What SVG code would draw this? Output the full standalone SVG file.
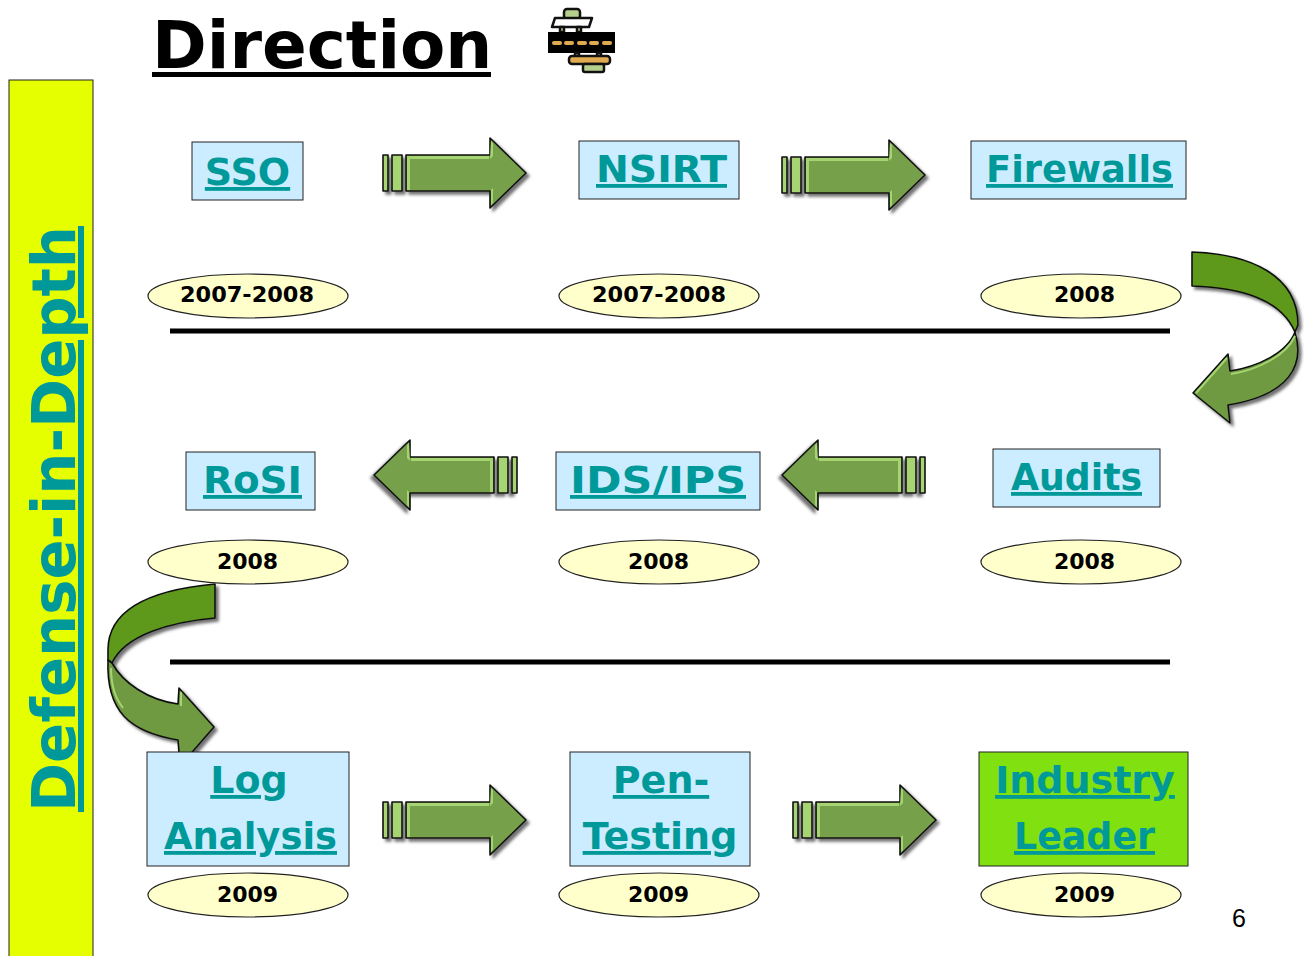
<svg xmlns="http://www.w3.org/2000/svg" width="1304" height="956" viewBox="0 0 1304 956">
<style>
.box{stroke:#222;stroke-width:1}
.blue{fill:#ccecff}
.lbl{font:bold 38px "DejaVu Sans",Verdana,sans-serif;fill:#009999;text-decoration:underline;text-anchor:middle}
.yr{font:bold 22px "DejaVu Sans",Verdana,sans-serif;fill:#000;text-anchor:middle}
.el{fill:#ffffcc;stroke:#222;stroke-width:1.2}
.rule{stroke:#000;stroke-width:5}
.ar{stroke:#111;stroke-width:1.6;stroke-linejoin:round}
.ic{stroke:#111;stroke-width:2.5;stroke-linejoin:round}
.hl{fill:none;stroke:#a6d472;stroke-width:2}
</style>
<defs>
<filter id="sh" x="-15%" y="-15%" width="135%" height="135%"><feDropShadow dx="3" dy="3" stdDeviation="1.5" flood-color="#444" flood-opacity=".75"/></filter>
<g id="arrow" filter="url(#sh)">
<rect class="ar" x="0" y="17" width="5" height="36" fill="#a6d472"/>
<rect class="ar" x="9" y="17" width="10" height="36" fill="#a6d472"/>
<path class="ar" fill="#76a04a" d="M23,17H107V0L143,35L107,70V53H23Z"/>
<path fill="#a6d472" d="M24,18H106V21H27V52H24ZM108,3L110,5V18L107,21ZM108,67V52L110,50V65Z"/>
</g>
</defs>
<g id="sidebar"><rect x="9" y="80" width="84" height="880" fill="#e6ff00" stroke="#222" stroke-width="1"/>
<text transform="translate(75,812) rotate(-90)" font-family="DejaVu Sans,Verdana,sans-serif" font-weight="bold" font-size="60" fill="#009999" text-decoration="underline" textLength="586" lengthAdjust="spacingAndGlyphs">Defense-in-Depth</text></g>
<g id="title"><text x="152" y="68" font-family="DejaVu Sans,Verdana,sans-serif" font-weight="bold" font-size="66" fill="#000">Direction</text>
<rect x="152" y="72" width="339" height="5" fill="#000"/></g>
<g id="icon">
<rect class="ic" x="564" y="9" width="16" height="10" rx="3" fill="#b5d08c"/>
<path class="ic" d="M555,18H592L589,27H552Z" fill="#fff"/>
<rect class="ic" x="560" y="27" width="4" height="5" fill="#b5d08c"/>
<rect class="ic" x="577" y="27" width="4" height="5" fill="#b5d08c"/>
<rect x="548" y="32" width="67" height="21" fill="#000"/>
<g fill="#e0aa50"><rect x="552" y="41" width="10" height="4" rx="2"/><rect x="564" y="41" width="10" height="4" rx="2"/><rect x="577" y="41" width="10" height="4" rx="2"/><rect x="589" y="41" width="10" height="4" rx="2"/><rect x="602" y="41" width="10" height="4" rx="2"/></g>
<rect class="ic" x="575" y="53" width="4" height="4" fill="#b5d08c"/>
<rect class="ic" x="597" y="53" width="4" height="4" fill="#b5d08c"/>
<rect class="ic" x="569" y="56" width="41" height="8" rx="3" fill="#e0aa50"/>
<rect class="ic" x="583" y="64" width="21" height="8" rx="2" fill="#b5d08c"/>
</g>
<g id="connectors">
<use href="#arrow" x="383" y="138"/>
<use href="#arrow" x="782" y="140"/>
<use href="#arrow" transform="translate(517,440) scale(-1,1)"/>
<use href="#arrow" transform="translate(925,440) scale(-1,1)"/>
<use href="#arrow" x="383" y="785"/>
<use href="#arrow" x="793" y="785"/>
<g id="curve-right" filter="url(#sh)">
<path class="ar" fill="#5f991c" d="M1192,252C1250,254 1298,275 1298,325L1295,332C1280,298 1240,288 1192,286Z"/>
<path class="ar" fill="#6f9a42" d="M1295,332C1305,365 1290,395 1228,405L1230,423L1193,393L1228,354L1230,371C1257,367 1287,353 1295,332Z"/>
<path class="hl" d="M1196,393L1227,358M1231,374C1257,370 1286,356 1295,336"/>
</g>
<g id="curve-left" filter="url(#sh)">
<path class="ar" fill="#5f991c" d="M215,584C150,590 108,610 108,650V660L112,663C125,635 170,622 215,618Z"/>
<path class="ar" fill="#6f9a42" d="M108,660C106,712 130,732 178,740L180,766L214,727L179,688L178,704C148,700 123,683 112,663Z"/>
<path class="hl" d="M111,668C111,685 115,698 123,708M181,692V706"/>
</g>
</g>
<g id="rules"><line class="rule" x1="170" y1="331" x2="1170" y2="331"/><line class="rule" x1="170" y1="662" x2="1170" y2="662"/></g>
<g id="n-sso"><rect class="box blue" x="192" y="142" width="111" height="58"/><text class="lbl" x="247.500" y="185">SSO</text></g>
<g id="n-nsirt"><rect class="box blue" x="579" y="141" width="160" height="58"/><text class="lbl" x="661.500" y="182" textLength="131" lengthAdjust="spacingAndGlyphs">NSIRT</text></g>
<g id="n-firewalls"><rect class="box blue" x="971" y="141" width="215" height="58"/><text class="lbl" x="1079.500" y="182" textLength="187" lengthAdjust="spacingAndGlyphs">Firewalls</text></g>
<g id="n-audits"><rect class="box blue" x="993" y="449" width="167" height="58"/><text class="lbl" x="1076.500" y="490" textLength="131" lengthAdjust="spacingAndGlyphs">Audits</text></g>
<g id="n-idsips"><rect class="box blue" x="556" y="452" width="204" height="58"/><text class="lbl" x="658" y="493" textLength="176" lengthAdjust="spacingAndGlyphs">IDS/IPS</text></g>
<g id="n-rosi"><rect class="box blue" x="186" y="452" width="129" height="58"/><text class="lbl" x="252.500" y="493" textLength="99" lengthAdjust="spacingAndGlyphs">RoSI</text></g>
<g id="n-log"><rect class="box blue" x="147" y="752" width="202" height="114"/><text class="lbl" x="249" y="793">Log</text><text class="lbl" x="250.500" y="849" textLength="173" lengthAdjust="spacingAndGlyphs">Analysis</text></g>
<g id="n-pen"><rect class="box blue" x="570" y="752" width="180" height="114"/><text class="lbl" x="661" y="793">Pen-</text><text class="lbl" x="660" y="849">Testing</text></g>
<g id="n-industry"><rect class="box" x="979" y="752" width="209" height="114" fill="#80e010"/><text class="lbl" x="1085" y="793">Industry</text><text class="lbl" x="1084.500" y="849" textLength="141" lengthAdjust="spacingAndGlyphs">Leader</text></g>
<g id="years">
<g id="y1"><ellipse class="el" cx="248" cy="296" rx="100" ry="22"/><text class="yr" x="247" y="302" textLength="134" lengthAdjust="spacingAndGlyphs">2007-2008</text></g>
<g id="y2"><ellipse class="el" cx="659" cy="296" rx="100" ry="22"/><text class="yr" x="659" y="302" textLength="134" lengthAdjust="spacingAndGlyphs">2007-2008</text></g>
<g id="y3"><ellipse class="el" cx="1081" cy="296" rx="100" ry="22"/><text class="yr" x="1084.500" y="302">2008</text></g>
<g id="y4"><ellipse class="el" cx="248" cy="562" rx="100" ry="22"/><text class="yr" x="247.500" y="569">2008</text></g>
<g id="y5"><ellipse class="el" cx="659" cy="562" rx="100" ry="22"/><text class="yr" x="658.500" y="569">2008</text></g>
<g id="y6"><ellipse class="el" cx="1081" cy="562" rx="100" ry="22"/><text class="yr" x="1084.500" y="569">2008</text></g>
<g id="y7"><ellipse class="el" cx="248" cy="895" rx="100" ry="22"/><text class="yr" x="247.500" y="902">2009</text></g>
<g id="y8"><ellipse class="el" cx="659" cy="895" rx="100" ry="22"/><text class="yr" x="658.500" y="902">2009</text></g>
<g id="y9"><ellipse class="el" cx="1081" cy="895" rx="100" ry="22"/><text class="yr" x="1084.500" y="902">2009</text></g>
</g>
<text id="page" x="1232" y="927" font-family="Liberation Sans,Arial,sans-serif" font-size="25" fill="#000">6</text>
</svg>
